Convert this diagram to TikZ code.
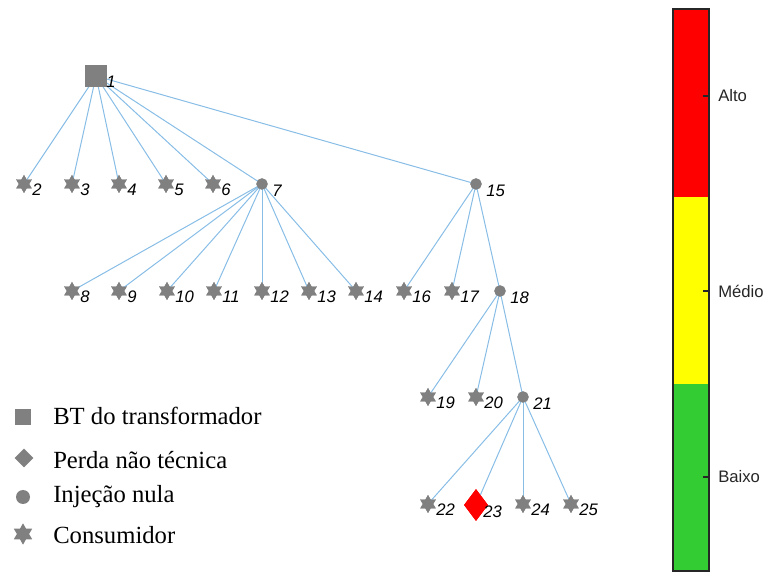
\documentclass[tikz,border=0pt]{standalone}
\usepackage{fontspec}
\setmainfont{Liberation Serif}
\setsansfont{Liberation Sans}
\usetikzlibrary{shapes.geometric}
\definecolor{markgray}{HTML}{808080}
\definecolor{linkblue}{HTML}{88BDE6}
\definecolor{riskred}{HTML}{FF0000}
\definecolor{riskyellow}{HTML}{FFFF00}
\definecolor{riskgreen}{HTML}{33CC33}
\begin{document}
\begin{tikzpicture}[x=0.75pt,y=-0.75pt,
  edge/.style={draw=linkblue,line width=0.75pt},
  markbase/.style={fill=markgray,draw=none,inner sep=0pt,outer sep=0pt},
  source/.style={markbase,rectangle,minimum size=16.5pt},
  junction/.style={markbase,circle,minimum size=8.5pt},
  consumer/.style={markbase,star,star points=6,star point ratio=1.75,minimum size=13.5pt},
  loss/.style={fill=riskred,draw=none,inner sep=0pt,diamond,minimum width=18pt,minimum height=24pt},
  lbl/.style={anchor=west,inner sep=0pt,font=\sffamily\itshape\fontsize{12.5}{14}\selectfont},
  legendtext/.style={anchor=west,inner sep=0pt,font=\fontsize{18.5}{22}\selectfont},
  bartext/.style={anchor=west,inner sep=0pt,font=\sffamily\fontsize{12.5}{14}\selectfont,text=black!85},
]
\useasboundingbox (0,0) rectangle (772,573);

% nodes of the network
\node[source]   (n1)  at (96,76) {};
\node[consumer] (n2)  at (24,184) {};
\node[consumer] (n3)  at (72,184) {};
\node[consumer] (n4)  at (119,184) {};
\node[consumer] (n5)  at (166,184) {};
\node[consumer] (n6)  at (213,184) {};
\node[junction] (n7)  at (262,184) {};
\node[junction] (n15) at (476,184) {};
\node[consumer] (n8)  at (72,291) {};
\node[consumer] (n9)  at (119,291) {};
\node[consumer] (n10) at (167,291) {};
\node[consumer] (n11) at (214,291) {};
\node[consumer] (n12) at (262,291) {};
\node[consumer] (n13) at (309,291) {};
\node[consumer] (n14) at (356,291) {};
\node[consumer] (n16) at (404,291) {};
\node[consumer] (n17) at (452,291) {};
\node[junction] (n18) at (500,291) {};
\node[consumer] (n19) at (428,397) {};
\node[consumer] (n20) at (476,397) {};
\node[junction] (n21) at (523,397) {};
\node[consumer] (n22) at (428,504) {};
\node[loss]     (n23) at (476,505) {};
\node[consumer] (n24) at (523,504) {};
\node[consumer] (n25) at (571,504) {};

% branches
\foreach \a/\b in {n1/n2,n1/n3,n1/n4,n1/n5,n1/n6,n1/n7,n1/n15,
  n7/n8,n7/n9,n7/n10,n7/n11,n7/n12,n7/n13,n7/n14,
  n15/n16,n15/n17,n15/n18,n18/n19,n18/n20,n18/n21,
  n21/n22,n21/n23,n21/n24,n21/n25}
  \draw[edge] (\a.center) -- (\b.center);

% markers redrawn over the branches
\foreach \n/\s in {n2/consumer,n3/consumer,n4/consumer,n5/consumer,n6/consumer,
  n8/consumer,n9/consumer,n10/consumer,n11/consumer,n12/consumer,n13/consumer,
  n14/consumer,n16/consumer,n17/consumer,n19/consumer,n20/consumer,
  n22/consumer,n24/consumer,n25/consumer,
  n7/junction,n15/junction,n18/junction,n21/junction,n1/source,n23/loss}
  \node[\s] at (\n.center) {};

% node numbers
\node[lbl] (l1) at ([shift={(10,6)}]n1.center) {1};
\foreach \n in {2,3,4,5,6,8,9,10,11,12,13,14,16,17,19,20,22,24,25}
  \node[lbl] (l\n) at ([shift={(8,6)}]n\n.center) {\n};
\foreach \n in {7,15,18,21}
  \node[lbl] (l\n) at ([shift={(10,7)}]n\n.center) {\n};
\node[lbl] (l23) at ([shift={(7,7)}]n23.center) {23};

% legend
\node[markbase,rectangle,minimum size=12.4pt] (k1) at (23,417) {};
\node[markbase,diamond,minimum size=14pt] (k2) at (24,458) {};
\node[markbase,circle,minimum size=10.5pt] (k3) at (23,497) {};
\node[markbase,star,star points=6,star point ratio=1.75,minimum size=16pt] (k4) at (23,534) {};
\node[legendtext] (t1) at (53,416) {BT do transformador};
\node[legendtext] (t2) at (53,460) {Perda não técnica};
\node[legendtext] (t3) at (53,497) {Injeção nula};
\node[legendtext] (t4) at (53,535) {Consumidor};

% risk scale
\fill[riskred]    (673,9)   rectangle (709,197);
\fill[riskyellow] (673,197) rectangle (709,384);
\fill[riskgreen]  (673,384) rectangle (709,571);
\draw[black!85,line width=0.8pt] (673,9) rectangle (709,571);
\foreach \y/\t in {96/Alto,291/Médio,477/Baixo}{
  \draw[black!85,line width=0.8pt] (703,\y) -- (709,\y);
  \node[bartext] at (718,\y) {\t};
}
\end{tikzpicture}
\end{document}
